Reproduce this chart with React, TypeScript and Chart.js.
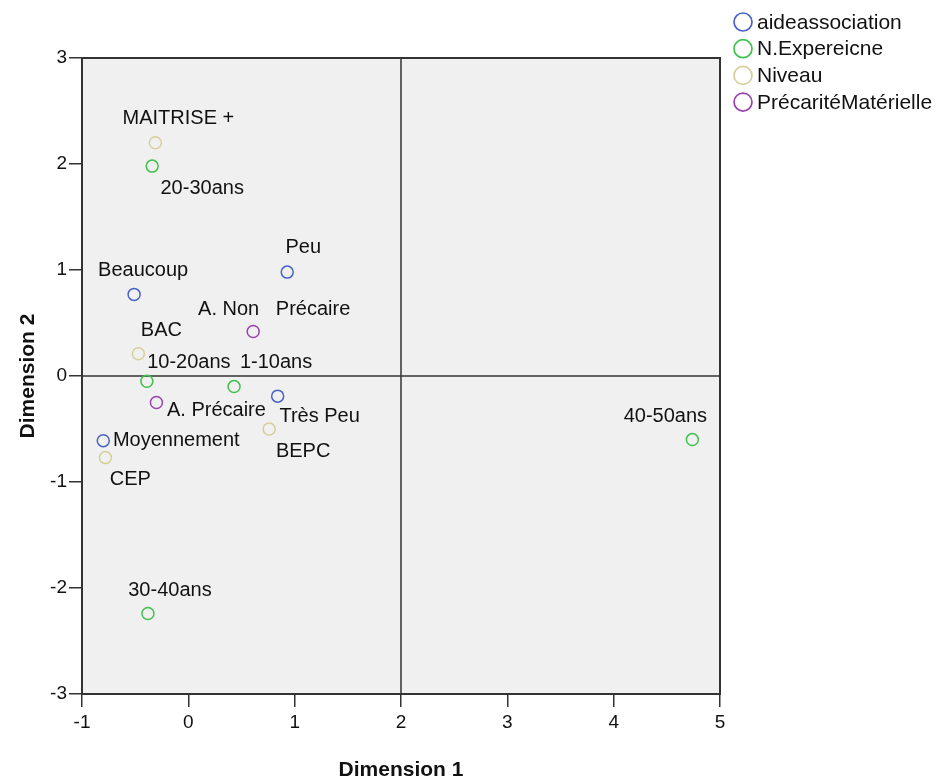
import React, { useEffect, useRef } from "react";
import { Chart, registerables } from "chart.js";

Chart.register(...registerables);

// ---- Data ----
const seriesNames = ["aideassociation", "N.Expereicne", "Niveau", "PrécaritéMatérielle"];
const seriesColors = ["#4a62c6", "#3fc14c", "#d6cf9c", "#9a42ad"];

const aideLabels = ["Beaucoup", "Peu", "Très Peu", "Moyennement"];
const aideX = [-0.51, 0.93, 0.84, -0.8];
const aideY = [0.77, 0.98, -0.19, -0.61];

const expLabels = ["20-30ans", "10-20ans", "1-10ans", "30-40ans", "40-50ans"];
const expX = [-0.34, -0.39, 0.43, -0.38, 4.74];
const expY = [1.98, -0.05, -0.1, -2.24, -0.6];

const nivLabels = ["MAITRISE +", "BAC", "BEPC", "CEP"];
const nivX = [-0.31, -0.47, 0.76, -0.78];
const nivY = [2.2, 0.21, -0.5, -0.77];

const precLabels = ["A. Non   Précaire", "A. Précaire"];
const precX = [0.61, -0.3];
const precY = [0.42, -0.25];

const xTicks = [-1, 0, 1, 2, 3, 4, 5];
const yTicks = [-3, -2, -1, 0, 1, 2, 3];

// ---- Layout: label offsets (px) from point centre to text centre ----
const labelOffsets: Record<string, [number, number]> = {
  "Beaucoup": [9, -24],
  "Peu": [16, -25],
  "Très Peu": [42, 20],
  "Moyennement": [73, 0],
  "20-30ans": [50, 22],
  "10-20ans": [42, -19],
  "1-10ans": [42, -24],
  "30-40ans": [22, -23],
  "40-50ans": [-27, -23],
  "MAITRISE +": [23, -24],
  "BAC": [23, -23],
  "BEPC": [34, 22],
  "CEP": [25, 22],
  "A. Non   Précaire": [21, -22],
  "A. Précaire": [60, 8],
};

const FONT = "'Liberation Sans', Arial, sans-serif";

function toPoints(xs: number[], ys: number[], labels: string[]) {
  return xs.map((x, i) => ({ x, y: ys[i], label: labels[i] }));
}

const customPlugin = {
  id: "custom",
  beforeDraw(chart: any) {
    const { ctx, chartArea: a } = chart;
    ctx.save();
    ctx.fillStyle = "#f0f0f0";
    ctx.fillRect(a.left, a.top, a.right - a.left, a.bottom - a.top);
    ctx.restore();
  },
  beforeDatasetsDraw(chart: any) {
    const { ctx, chartArea: a, scales } = chart;
    ctx.save();
    ctx.strokeStyle = "#333";
    ctx.lineWidth = 1.5;
    const x2 = scales.x.getPixelForValue(2);
    const y0 = scales.y.getPixelForValue(0);
    ctx.beginPath();
    ctx.moveTo(x2, a.top);
    ctx.lineTo(x2, a.bottom);
    ctx.moveTo(a.left, y0);
    ctx.lineTo(a.right, y0);
    ctx.stroke();
    ctx.lineWidth = 2;
    ctx.strokeStyle = "#333";
    ctx.strokeRect(a.left, a.top, a.right - a.left, a.bottom - a.top);
    ctx.restore();
  },
  afterDatasetsDraw(chart: any) {
    const { ctx, scales } = chart;
    ctx.save();
    ctx.font = `20px ${FONT}`;
    ctx.fillStyle = "#111";
    ctx.textAlign = "center";
    ctx.textBaseline = "middle";
    chart.data.datasets.forEach((ds: any) => {
      ds.data.forEach((p: any) => {
        const px = scales.x.getPixelForValue(p.x);
        const py = scales.y.getPixelForValue(p.y);
        const off = labelOffsets[p.label] || [0, -20];
        ctx.fillText(p.label, px + off[0], py + off[1]);
      });
    });
    // legend
    ctx.textAlign = "left";
    ctx.font = `21px ${FONT}`;
    seriesNames.forEach((name, i) => {
      const cy = 22 + i * 26.7;
      ctx.beginPath();
      ctx.strokeStyle = seriesColors[i];
      ctx.lineWidth = 1.7;
      ctx.arc(743, cy, 9, 0, Math.PI * 2);
      ctx.stroke();
      ctx.fillStyle = "#111";
      ctx.fillText(name, 757, cy + 1);
    });
    ctx.restore();
  },
};

export default function App() {
  const ref = useRef<HTMLCanvasElement>(null);
  useEffect(() => {
    if (!ref.current) return;
    const mk = (i: number, pts: any[]) => ({
      label: seriesNames[i],
      data: pts,
      showLine: false,
      pointRadius: 6,
      pointHoverRadius: 6,
      pointBorderWidth: 1.5,
      pointBackgroundColor: "rgba(0,0,0,0)",
      pointBorderColor: seriesColors[i],
      borderColor: seriesColors[i],
      backgroundColor: "rgba(0,0,0,0)",
    });
    const chart = new Chart(ref.current, {
      type: "scatter",
      data: {
        datasets: [
          mk(0, toPoints(aideX, aideY, aideLabels)),
          mk(1, toPoints(expX, expY, expLabels)),
          mk(2, toPoints(nivX, nivY, nivLabels)),
          mk(3, toPoints(precX, precY, precLabels)),
        ],
      },
      options: {
        animation: false,
        responsive: false,
        devicePixelRatio: 1,
        layout: { padding: { left: 0, right: 218, top: 58, bottom: 0 } },
        plugins: { legend: { display: false }, tooltip: { enabled: false } },
        scales: {
          x: {
            type: "linear",
            min: -1,
            max: 5,
            afterBuildTicks: (s: any) => {
              s.ticks = xTicks.map((v) => ({ value: v }));
            },
            afterFit: (s: any) => {
              s.height = 89;
            },
            grid: { display: true, drawOnChartArea: false, drawTicks: true, tickLength: 13, color: "#333", lineWidth: 1.5 },
            border: { display: true, color: "#333", width: 2 },
            ticks: { color: "#111", font: { family: FONT, size: 19 }, padding: 4, maxRotation: 0 },
            title: {
              display: true,
              text: "Dimension 1",
              color: "#111",
              font: { family: FONT, size: 21, weight: "bold" },
              padding: { top: 18, bottom: 0 },
            },
          },
          y: {
            type: "linear",
            min: -3,
            max: 3,
            afterBuildTicks: (s: any) => {
              s.ticks = yTicks.map((v) => ({ value: v }));
            },
            afterFit: (s: any) => {
              s.width = 82;
            },
            grid: { display: true, drawOnChartArea: false, drawTicks: true, tickLength: 13, color: "#333", lineWidth: 1.5 },
            border: { display: true, color: "#333", width: 2 },
            ticks: { color: "#111", font: { family: FONT, size: 19 }, padding: 2 },
            title: {
              display: true,
              text: "Dimension 2",
              color: "#111",
              font: { family: FONT, size: 21, weight: "bold" },
              padding: { top: 16, bottom: 8 },
            },
          },
        },
      },
      plugins: [customPlugin],
    });
    return () => chart.destroy();
  }, []);
  return (
    <div style={{ position: "fixed", left: 0, top: 0, width: 938, height: 783, background: "#fff" }}>
      <canvas ref={ref} width={938} height={783} style={{ width: 938, height: 783 }} />
    </div>
  );
}
